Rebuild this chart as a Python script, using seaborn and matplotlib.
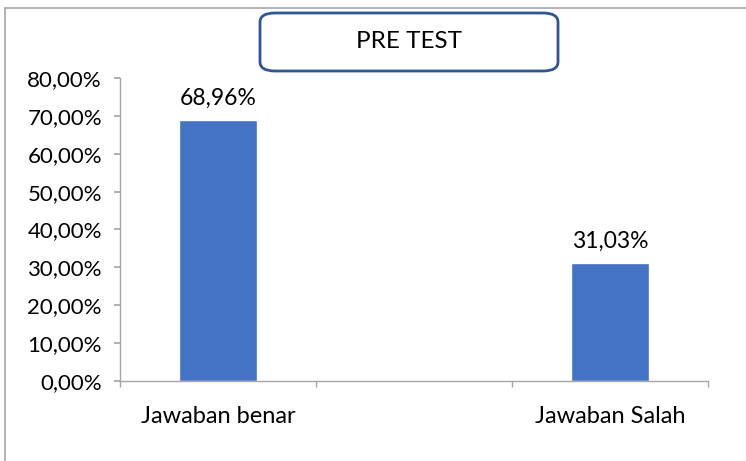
import matplotlib
matplotlib.use("Agg")
import matplotlib.pyplot as plt
import seaborn as sns
import pandas as pd
import numpy as np
from matplotlib.patches import FancyBboxPatch
from matplotlib.lines import Line2D
from matplotlib.ticker import FuncFormatter, MultipleLocator

categories = ["Jawaban benar", " ", "Jawaban Salah"]
values = [0.6896, 0.0, 0.3103]
labels = ["68,96%", "", "31,03%"]
title = "PRE TEST"

sns.set_theme(style="white")
plt.rcParams['font.family'] = ['Lato', 'DejaVu Sans']

fig = plt.figure(figsize=(7.46, 4.61), dpi=100)
ax = fig.add_axes([120/746, 80/461, 588/746, 303/461])

df = pd.DataFrame({"cat": categories, "val": values})
sns.barplot(data=df, x="cat", y="val", color="#4472C4", width=0.4, ax=ax, saturation=1)

ax.set_ylim(0, 0.8)
ax.set_xlim(-0.5, 2.5)
ax.yaxis.set_major_locator(MultipleLocator(0.1))
ax.yaxis.set_major_formatter(FuncFormatter(lambda v, p: f"{v*100:.2f}%".replace(".", ",")))
ax.set_xlabel("")
ax.set_ylabel("")

for s in ["top", "right"]:
    ax.spines[s].set_visible(False)
for s in ["left", "bottom"]:
    ax.spines[s].set_color("#A6A6A6")
    ax.spines[s].set_linewidth(1)

ax.tick_params(axis="y", which="major", left=True, length=4, color="#A6A6A6", labelsize=16, pad=9, labelcolor="black")
ax.set_xticks([0, 1, 2])
ax.set_xticklabels(categories)
ax.set_xticks([-0.5, 0.5, 1.5, 2.5], minor=True)
ax.tick_params(axis="x", which="major", bottom=False, labelsize=17, pad=12, labelcolor="black")
ax.tick_params(axis="x", which="minor", bottom=True, length=4, color="#A6A6A6")

for i, (v, lab) in enumerate(zip(values, labels)):
    if lab:
        ax.text(i, v + 0.03, lab, ha="center", va="bottom", fontsize=16.5, color="black")

# outer frame (partial)
fig.add_artist(Line2D([5/746, 1.0], [1 - 8/461, 1 - 8/461], transform=fig.transFigure, color="#A6A6A6", lw=1.2))
fig.add_artist(Line2D([5/746, 5/746], [0.0, 1 - 8/461], transform=fig.transFigure, color="#A6A6A6", lw=1.2))

# title box
bx0, by0, bw, bh = 260/746, 1 - 71/461, 298/746, 58/461
box = FancyBboxPatch((bx0, by0), bw, bh, boxstyle="round,pad=0,rounding_size=0.02",
                     transform=fig.transFigure, facecolor="white", edgecolor="#2F5597", lw=2)
fig.add_artist(box)
fig.text(bx0 + bw/2, by0 + bh/2, title, ha="center", va="center", fontsize=17.5, color="black")

fig.savefig("out.png", dpi=100)
